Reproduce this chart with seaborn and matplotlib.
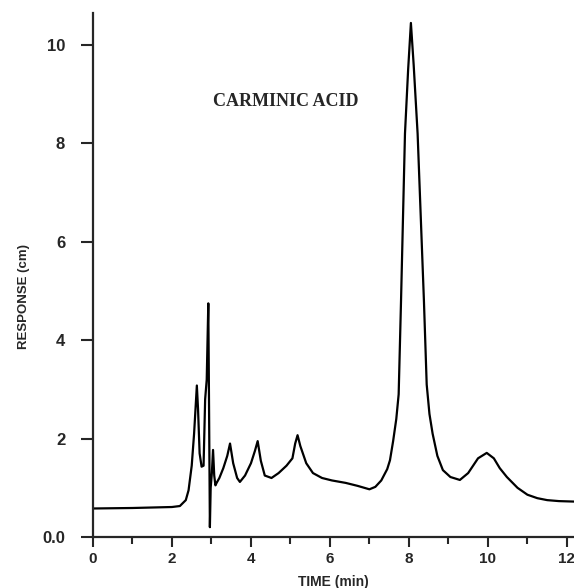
import matplotlib
matplotlib.use('Agg')
import matplotlib.pyplot as plt
import seaborn as sns
import pandas as pd
from matplotlib.ticker import MultipleLocator

# Chromatogram trace (time in min, response in cm)
time_min = [0.0, 1.0, 2.0, 2.2, 2.35, 2.42, 2.50, 2.56, 2.63, 2.66, 2.70, 2.75,
            2.80, 2.84, 2.88, 2.92, 2.94, 2.96, 2.98, 3.01, 3.04, 3.07, 3.10,
            3.13, 3.20, 3.30, 3.40, 3.47, 3.55, 3.65, 3.72, 3.85, 4.00, 4.10,
            4.17, 4.25, 4.35, 4.52, 4.70, 4.90, 5.05, 5.12, 5.18, 5.25, 5.40,
            5.57, 5.80, 6.05, 6.40, 6.70, 7.00, 7.15, 7.30, 7.45, 7.52, 7.60,
            7.68, 7.74, 7.80, 7.90, 7.98, 8.05, 8.12, 8.22, 8.30, 8.38, 8.45,
            8.52, 8.60, 8.72, 8.86, 9.05, 9.29, 9.50, 9.75, 9.97, 10.15, 10.30,
            10.48, 10.75, 11.0, 11.25, 11.5, 11.8, 12.2]
response_cm = [0.58, 0.59, 0.61, 0.63, 0.75, 0.95, 1.45, 2.1, 3.08, 2.6, 1.7, 1.43,
               1.45, 2.8, 3.2, 4.75, 2.5, 0.2, 1.0, 1.3, 1.77, 1.25, 1.05,
               1.1, 1.2, 1.4, 1.65, 1.9, 1.5, 1.2, 1.12, 1.25, 1.5, 1.75,
               1.95, 1.55, 1.25, 1.2, 1.3, 1.45, 1.6, 1.9, 2.07, 1.85, 1.5,
               1.3, 1.2, 1.15, 1.1, 1.04, 0.97, 1.02, 1.15, 1.38, 1.56, 1.95,
               2.4, 2.9, 4.8, 8.2, 9.5, 10.45, 9.6, 8.2, 6.5, 4.8, 3.1,
               2.5, 2.1, 1.65, 1.36, 1.22, 1.16, 1.3, 1.6, 1.71, 1.6, 1.4,
               1.22, 1.0, 0.86, 0.79, 0.75, 0.73, 0.72]

x_major = [0, 2, 4, 6, 8, 10, 12]
y_major = [0, 2, 4, 6, 8, 10]
y_labels = ['0.0', '2', '4', '6', '8', '10']
annotation = 'CARMINIC ACID'

df = pd.DataFrame({'time': time_min, 'response': response_cm})

sns.set_style("ticks")
plt.rcParams['font.family'] = ['Liberation Sans', 'DejaVu Sans']
plt.rcParams['font.weight'] = 'bold'

fig = plt.figure(figsize=(5.74, 5.88), dpi=100)
ax = fig.add_axes([0.162, 0.0867, 0.838, 0.891])

sns.lineplot(data=df, x='time', y='response', ax=ax, color='black',
             linewidth=1.6, estimator=None, sort=False)

ax.set_xlim(0, 12.18)
ax.set_ylim(0, 10.65)
ax.set_xticks(x_major)
ax.set_xticklabels([str(v) for v in x_major], fontsize=11, fontweight='bold')
ax.xaxis.set_minor_locator(MultipleLocator(1))
ax.set_yticks(y_major)
ax.set_yticklabels(y_labels, fontsize=12, fontweight='bold')

ax.tick_params(axis='x', which='major', direction='out', length=7, width=1.5, pad=4)
ax.tick_params(axis='x', which='minor', direction='out', length=5, width=1.5)
ax.tick_params(axis='y', which='major', direction='out', length=9, width=1.5, pad=11)

for side in ['left', 'bottom']:
    ax.spines[side].set_linewidth(1.6)
sns.despine(ax=ax)

ax.set_xlabel('TIME (min)', fontsize=10, fontweight='bold', labelpad=6)
ax.set_ylabel('RESPONSE (cm)', fontsize=9.5, fontweight='bold', labelpad=10)
ax.yaxis.set_label_coords(-0.13, 0.46)

ax.text(4.89, 8.86, annotation, ha='center', va='center', fontsize=13,
        family='Liberation Serif', fontweight='bold')

fig.savefig('out.png', dpi=100)
